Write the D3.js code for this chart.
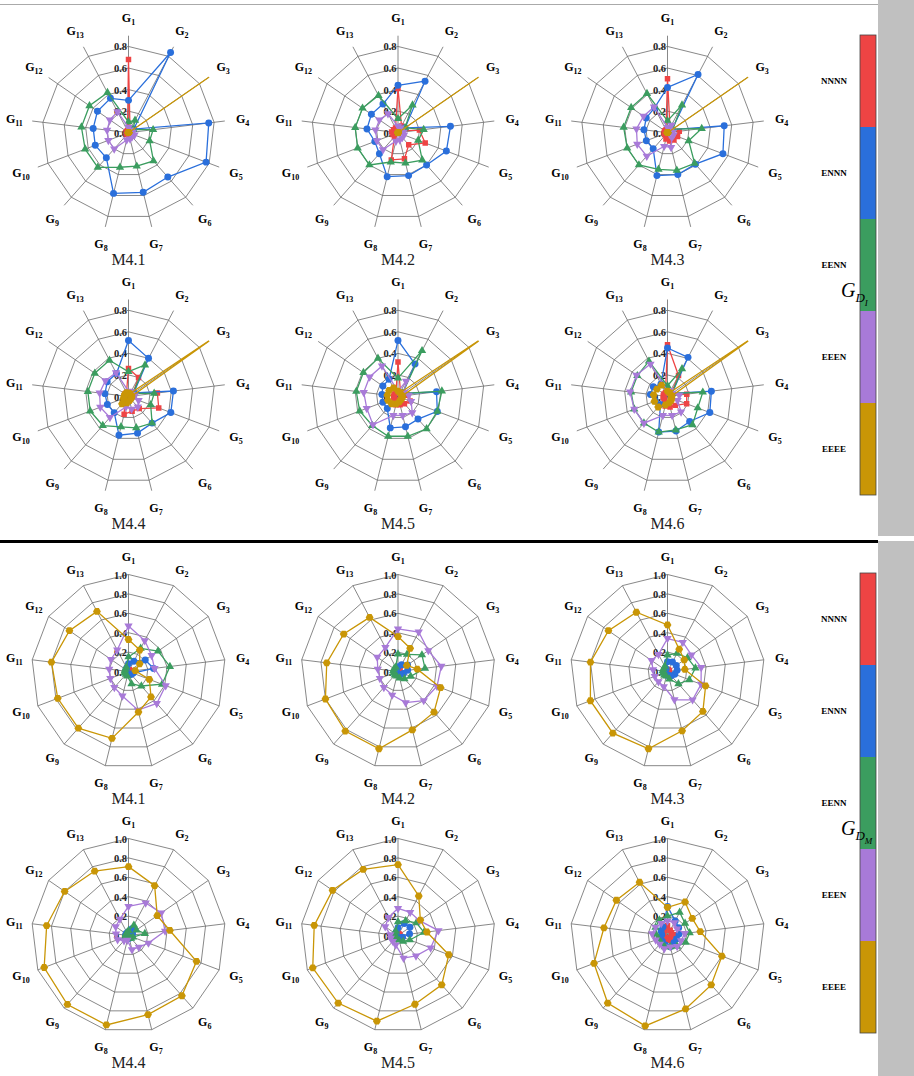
<!DOCTYPE html>
<html>
<head>
<meta charset="utf-8">
<script src="https://cdn.jsdelivr.net/npm/d3@7"></script>
<style>
  body { margin: 0; background: #fff; }
  svg { display: block; font-family: "Liberation Serif", "Times New Roman", serif; }
</style>
</head>
<body>
<svg width="914" height="1076"></svg>
<script>
// ---- data ----
var axisSubs = ["1", "2", "3", "4", "5", "6", "7", "8", "9", "10", "11", "12", "13"];
var seriesNames = ["NNNN", "ENNN", "EENN", "EEEN", "EEEE"];
var seriesColors = ["#ee4444", "#2a6fdb", "#3b9d5f", "#a87ad8", "#c99606"];
var panelTitles = ["M4.1", "M4.2", "M4.3", "M4.4", "M4.5", "M4.6"];
var topTicks = [0, 0.2, 0.4, 0.6, 0.8];
var bottomTicks = [0, 0.2, 0.4, 0.6, 0.8, 1.0];

// G_DI panels: rows = NNNN, ENNN, EENN, EEEN, EEEE ; columns = G1..G13
// (EEEE at G3 runs off the plot, it is clipped at the spoke end)
var dI_M41 = [
  [0.68, 0.03, 0.02, 0.03, 0.03, 0.03, 0.02, 0.02, 0.02, 0.02, 0.02, 0.02, 0.02],
  [0.30, 0.84, 0.06, 0.75, 0.77, 0.55, 0.57, 0.58, 0.31, 0.33, 0.33, 0.35, 0.36],
  [0.10, 0.13, 0.05, 0.23, 0.21, 0.35, 0.32, 0.33, 0.43, 0.43, 0.44, 0.44, 0.42],
  [0.05, 0.03, 0.03, 0.04, 0.06, 0.05, 0.06, 0.07, 0.20, 0.20, 0.20, 0.21, 0.22],
  [0, 0, 1.0, 0, 0, 0, 0, 0, 0, 0, 0, 0, 0]
];
var dI_M42 = [
  [0.41, 0.07, 0.03, 0.20, 0.27, 0.15, 0.25, 0.26, 0.05, 0.05, 0.06, 0.05, 0.05],
  [0.44, 0.54, 0.08, 0.49, 0.48, 0.40, 0.41, 0.42, 0.26, 0.23, 0.29, 0.30, 0.30],
  [0.13, 0.29, 0.08, 0.24, 0.20, 0.34, 0.29, 0.28, 0.40, 0.40, 0.40, 0.40, 0.39],
  [0.06, 0.05, 0.04, 0.05, 0.06, 0.06, 0.07, 0.08, 0.21, 0.21, 0.21, 0.21, 0.20],
  [0, 0, 1.0, 0, 0, 0, 0, 0, 0, 0, 0, 0, 0]
];
var dI_M43 = [
  [0.50, 0.05, 0.03, 0.11, 0.10, 0.09, 0.08, 0.06, 0.03, 0.03, 0.03, 0.03, 0.03],
  [0.42, 0.61, 0.05, 0.53, 0.55, 0.39, 0.40, 0.41, 0.20, 0.21, 0.22, 0.24, 0.26],
  [0.11, 0.29, 0.06, 0.32, 0.21, 0.38, 0.36, 0.35, 0.40, 0.40, 0.41, 0.41, 0.41],
  [0.05, 0.08, 0.04, 0.05, 0.06, 0.06, 0.14, 0.13, 0.29, 0.30, 0.29, 0.27, 0.27],
  [0, 0, 1.0, 0, 0, 0, 0, 0, 0, 0, 0, 0, 0]
];
var dI_M44 = [
  [0.26, 0.20, 0.05, 0.27, 0.30, 0.15, 0.14, 0.17, 0.05, 0.04, 0.04, 0.04, 0.04],
  [0.52, 0.40, 0.06, 0.42, 0.42, 0.33, 0.35, 0.37, 0.20, 0.21, 0.22, 0.24, 0.24],
  [0.23, 0.33, 0.05, 0.24, 0.22, 0.33, 0.30, 0.29, 0.36, 0.38, 0.38, 0.38, 0.38],
  [0.05, 0.05, 0.04, 0.06, 0.10, 0.13, 0.12, 0.10, 0.26, 0.28, 0.27, 0.26, 0.25],
  [0.03, 0.03, 1.0, 0.03, 0.03, 0.03, 0.04, 0.06, 0.09, 0.05, 0.04, 0.04, 0.04]
];
var dI_M45 = [
  [0.32, 0.05, 0.03, 0.09, 0.12, 0.09, 0.08, 0.08, 0.04, 0.04, 0.04, 0.04, 0.04],
  [0.52, 0.34, 0.05, 0.36, 0.39, 0.28, 0.29, 0.30, 0.15, 0.15, 0.15, 0.17, 0.18],
  [0.17, 0.48, 0.05, 0.41, 0.39, 0.40, 0.38, 0.38, 0.36, 0.38, 0.39, 0.39, 0.40],
  [0.05, 0.16, 0.07, 0.10, 0.13, 0.20, 0.18, 0.18, 0.35, 0.31, 0.32, 0.32, 0.32],
  [0.05, 0.04, 1.0, 0.04, 0.04, 0.04, 0.05, 0.07, 0.09, 0.10, 0.10, 0.10, 0.09]
];
var dI_M46 = [
  [0.48, 0.22, 0.04, 0.18, 0.19, 0.11, 0.10, 0.09, 0.04, 0.04, 0.04, 0.04, 0.04],
  [0.45, 0.41, 0.05, 0.41, 0.42, 0.31, 0.33, 0.34, 0.10, 0.12, 0.16, 0.16, 0.13],
  [0.10, 0.29, 0.05, 0.33, 0.30, 0.35, 0.32, 0.34, 0.33, 0.33, 0.34, 0.34, 0.37],
  [0.05, 0.06, 0.05, 0.11, 0.10, 0.19, 0.18, 0.18, 0.33, 0.33, 0.35, 0.35, 0.34],
  [0.05, 0.04, 1.0, 0.04, 0.04, 0.05, 0.06, 0.08, 0.13, 0.13, 0.13, 0.12, 0.12]
];

// G_DM panels
var dM_M41 = [
  [0.02, 0.02, 0.02, 0.02, 0.02, 0.02, 0.02, 0.02, 0.02, 0.02, 0.02, 0.02, 0.02],
  [0.08, 0.12, 0.21, 0.26, 0.05, 0.04, 0.03, 0.03, 0.03, 0.03, 0.03, 0.03, 0.04],
  [0.15, 0.27, 0.37, 0.43, 0.37, 0.20, 0.13, 0.05, 0.04, 0.04, 0.04, 0.04, 0.05],
  [0.47, 0.36, 0.29, 0.27, 0.41, 0.44, 0.41, 0.26, 0.22, 0.20, 0.20, 0.22, 0.25],
  [0.33, 0.25, 0.14, 0.07, 0.23, 0.35, 0.43, 0.71, 0.78, 0.78, 0.80, 0.74, 0.70]
];
var dM_M42 = [
  [0.02, 0.02, 0.02, 0.02, 0.02, 0.02, 0.02, 0.02, 0.02, 0.02, 0.02, 0.02, 0.02],
  [0.05, 0.08, 0.12, 0.10, 0.06, 0.04, 0.03, 0.03, 0.03, 0.03, 0.03, 0.03, 0.03],
  [0.18, 0.20, 0.30, 0.28, 0.14, 0.10, 0.07, 0.05, 0.05, 0.05, 0.05, 0.05, 0.05],
  [0.44, 0.46, 0.38, 0.45, 0.43, 0.40, 0.33, 0.25, 0.22, 0.20, 0.21, 0.26, 0.28],
  [0.36, 0.27, 0.11, 0.20, 0.47, 0.56, 0.62, 0.82, 0.82, 0.80, 0.74, 0.68, 0.63]
];
var dM_M43 = [
  [0.02, 0.02, 0.02, 0.02, 0.02, 0.02, 0.02, 0.02, 0.02, 0.02, 0.02, 0.02, 0.02],
  [0.10, 0.11, 0.11, 0.10, 0.08, 0.06, 0.04, 0.04, 0.03, 0.03, 0.03, 0.03, 0.03],
  [0.17, 0.21, 0.25, 0.29, 0.24, 0.17, 0.08, 0.05, 0.05, 0.05, 0.05, 0.05, 0.06],
  [0.34, 0.34, 0.30, 0.35, 0.37, 0.39, 0.30, 0.16, 0.14, 0.14, 0.15, 0.20, 0.20],
  [0.48, 0.26, 0.21, 0.18, 0.42, 0.55, 0.63, 0.82, 0.85, 0.85, 0.80, 0.74, 0.69]
];
var dM_M44 = [
  [0.02, 0.02, 0.02, 0.02, 0.02, 0.02, 0.02, 0.02, 0.02, 0.02, 0.02, 0.02, 0.02],
  [0.04, 0.08, 0.05, 0.04, 0.03, 0.03, 0.03, 0.03, 0.03, 0.03, 0.03, 0.03, 0.03],
  [0.05, 0.12, 0.10, 0.17, 0.05, 0.04, 0.03, 0.03, 0.03, 0.03, 0.03, 0.03, 0.03],
  [0.30, 0.38, 0.41, 0.38, 0.22, 0.16, 0.15, 0.05, 0.07, 0.12, 0.13, 0.16, 0.19],
  [0.71, 0.58, 0.36, 0.43, 0.75, 0.83, 0.84, 0.95, 0.95, 0.93, 0.85, 0.80, 0.75]
];
var dM_M45 = [
  [0.02, 0.02, 0.02, 0.02, 0.02, 0.02, 0.02, 0.02, 0.02, 0.02, 0.02, 0.02, 0.02],
  [0.08, 0.14, 0.15, 0.12, 0.05, 0.03, 0.03, 0.03, 0.03, 0.03, 0.03, 0.03, 0.04],
  [0.14, 0.17, 0.23, 0.27, 0.13, 0.08, 0.05, 0.04, 0.04, 0.04, 0.04, 0.04, 0.05],
  [0.28, 0.27, 0.27, 0.42, 0.36, 0.28, 0.24, 0.10, 0.08, 0.08, 0.08, 0.16, 0.21],
  [0.73, 0.46, 0.28, 0.30, 0.56, 0.68, 0.73, 0.91, 0.93, 0.94, 0.87, 0.82, 0.77]
];
var dM_M46 = [
  [0.10, 0.06, 0.05, 0.06, 0.04, 0.05, 0.05, 0.04, 0.03, 0.04, 0.04, 0.05, 0.06],
  [0.30, 0.17, 0.14, 0.12, 0.10, 0.10, 0.12, 0.10, 0.08, 0.08, 0.06, 0.08, 0.10],
  [0.20, 0.27, 0.22, 0.23, 0.20, 0.15, 0.12, 0.12, 0.10, 0.10, 0.12, 0.15, 0.18],
  [0.15, 0.15, 0.12, 0.18, 0.15, 0.15, 0.12, 0.14, 0.12, 0.13, 0.16, 0.15, 0.14],
  [0.29, 0.39, 0.31, 0.34, 0.60, 0.68, 0.78, 0.96, 0.93, 0.81, 0.66, 0.64, 0.62]
];

var topPanels = [dI_M41, dI_M42, dI_M43, dI_M44, dI_M45, dI_M46];
var bottomPanels = [dM_M41, dM_M42, dM_M43, dM_M44, dM_M45, dM_M46];

// ---- layout ----
var svg = d3.select("svg");
var R = 97;                       // spoke length in px
var colX = [128.5, 398, 667.5];
var rowY = [132.7, 396.5, 671.5, 935.5];
var gridColor = "#6a6a6a";

// clip so that values past the outer end of the spokes get cut
svg.append("defs").append("clipPath").attr("id", "radarClip")
  .append("circle").attr("r", R + 1);

// hexagon marker for EEEE
var symbolHex = {
  draw: function(ctx, size) {
    var r = Math.sqrt(size / 2.598);
    for (var i = 0; i < 6; i++) {
      var a = Math.PI / 3 * i;
      if (i == 0) ctx.moveTo(r * Math.cos(a), r * Math.sin(a));
      else ctx.lineTo(r * Math.cos(a), r * Math.sin(a));
    }
    ctx.closePath();
  }
};
var markerTypes = [d3.symbolSquare, d3.symbolCircle, d3.symbolTriangle, d3.symbolTriangle, symbolHex];
var markerSizes = [30, 38, 30, 30, 40];
var markerRot = [0, 0, 0, 180, 0];

// frame: top rule, separator, grey side bars
svg.append("line").attr("x1", 0).attr("x2", 878).attr("y1", 4.5).attr("y2", 4.5)
  .attr("stroke", "#aaa").attr("stroke-width", 1);
svg.append("rect").attr("x", 878).attr("y", 0).attr("width", 36).attr("height", 536).attr("fill", "#c0c0c0");
svg.append("rect").attr("x", 878).attr("y", 541).attr("width", 36).attr("height", 535).attr("fill", "#c0c0c0");
svg.append("line").attr("x1", 0).attr("x2", 878).attr("y1", 541.5).attr("y2", 541.5)
  .attr("stroke", "#000").attr("stroke-width", 3);

var angle = d3.scaleLinear().domain([0, axisSubs.length]).range([0, 2 * Math.PI]);

function drawPanel(cx, cy, values, maxVal, ticks, title) {
  var r = d3.scaleLinear().domain([0, maxVal]).range([0, R]);
  var g = svg.append("g").attr("transform", "translate(" + cx + "," + cy + ")");

  // rings
  ticks.filter(function(t) { return t > 0; }).forEach(function(t) {
    g.append("path")
      .attr("d", d3.lineRadial()
        .angle(function(d, i) { return angle(i); })
        .radius(r(t))
        .curve(d3.curveLinearClosed)(axisSubs))
      .attr("fill", "none").attr("stroke", gridColor).attr("stroke-width", 0.8);
  });

  // spokes
  axisSubs.forEach(function(s, i) {
    var p = d3.pointRadial(angle(i), R);
    g.append("line").attr("x1", 0).attr("y1", 0).attr("x2", p[0]).attr("y2", p[1])
      .attr("stroke", gridColor).attr("stroke-width", 0.8);
  });

  // axis labels G_i
  axisSubs.forEach(function(s, i) {
    var p = d3.pointRadial(angle(i), 115);
    var t = g.append("text").attr("x", p[0]).attr("y", p[1] + 4)
      .attr("text-anchor", "middle").attr("font-weight", "bold").attr("font-size", 12);
    t.append("tspan").text("G");
    t.append("tspan").attr("font-size", 8).attr("dy", 3).text(s);
  });

  // tick labels on G1 spoke
  g.selectAll(".tick").data(ticks).enter().append("text")
    .attr("x", -1.5).attr("y", function(d) { return -r(d) + 4; })
    .attr("text-anchor", "end").attr("font-weight", "bold").attr("font-size", 10.5)
    .attr("fill", "#222")
    .text(d3.format(".1f"));

  // series
  var sg = g.append("g").attr("clip-path", "url(#radarClip)");
  values.forEach(function(vals, k) {
    sg.append("path")
      .attr("d", d3.lineRadial()
        .angle(function(d, i) { return angle(i); })
        .radius(function(d) { return r(d); })
        .curve(d3.curveLinearClosed)(vals))
      .attr("fill", "none").attr("stroke", seriesColors[k]).attr("stroke-width", 1.3);
    var sym = d3.symbol().type(markerTypes[k]).size(markerSizes[k]);
    sg.selectAll(".m" + k).data(vals).enter().append("path")
      .attr("d", sym)
      .attr("transform", function(d, i) {
        var p = d3.pointRadial(angle(i), r(d));
        return "translate(" + p[0] + "," + p[1] + ") rotate(" + markerRot[k] + ")";
      })
      .attr("fill", seriesColors[k]);
  });

  g.append("text").attr("x", 0).attr("y", 132).attr("text-anchor", "middle")
    .attr("font-size", 16).attr("fill", "#222").text(title);
}

topPanels.forEach(function(v, i) {
  drawPanel(colX[i % 3], rowY[Math.floor(i / 3)], v, 0.9, topTicks, panelTitles[i]);
});
bottomPanels.forEach(function(v, i) {
  drawPanel(colX[i % 3], rowY[2 + Math.floor(i / 3)], v, 1.0, bottomTicks, panelTitles[i]);
});

// legends
function drawLegend(y0, sub) {
  var segH = 92;
  var band = d3.scaleBand().domain(seriesNames).range([y0, y0 + segH * 5]);
  var lg = svg.append("g");
  lg.selectAll("rect.seg").data(seriesNames).enter().append("rect")
    .attr("x", 860).attr("y", function(d) { return band(d); })
    .attr("width", 16).attr("height", band.bandwidth())
    .attr("fill", function(d, i) { return seriesColors[i]; });
  lg.append("rect").attr("x", 860).attr("y", y0).attr("width", 16).attr("height", segH * 5)
    .attr("fill", "none").attr("stroke", "#444").attr("stroke-width", 0.8);
  lg.selectAll("text.lab").data(seriesNames).enter().append("text")
    .attr("x", 834).attr("y", function(d) { return band(d) + band.bandwidth() / 2 + 3; })
    .attr("text-anchor", "middle").attr("font-weight", "bold").attr("font-size", 9)
    .text(function(d) { return d; });
  var ly = y0 + segH * 2.85;
  var t = lg.append("text").attr("x", 841).attr("y", ly).attr("font-style", "italic").attr("font-size", 20);
  t.append("tspan").text("G");
  t.append("tspan").attr("font-size", 13).attr("dy", 5).text("D");
  t.append("tspan").attr("font-size", 9).attr("dy", 4).text(sub);
}
drawLegend(35, "I");
drawLegend(573, "M");
</script>
</body>
</html>
